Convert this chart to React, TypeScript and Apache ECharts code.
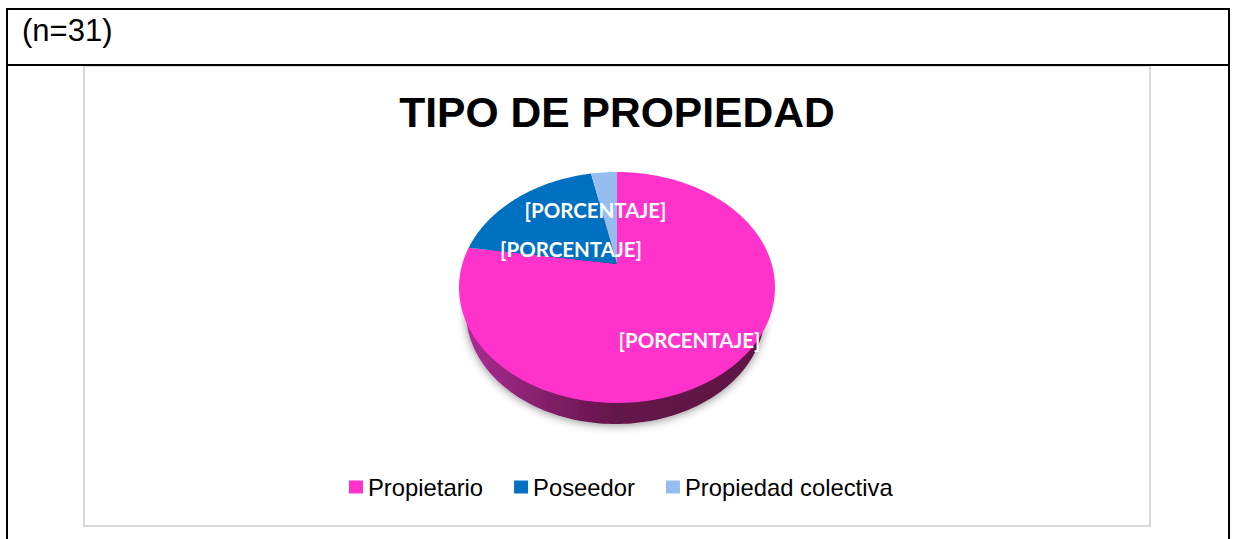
import React, { useEffect, useRef } from "react";
import * as echarts from "echarts";

const categories = ["Propietario", "Poseedor", "Propiedad colectiva"];
const counts = [24, 6, 1];
const colors = ["#ff33cc", "#0070c0", "#95bdf0"];
const labelText = "[PORCENTAJE]";
const titleText = "TIPO DE PROPIEDAD";
const sampleText = "(n=31)";

// Layout of the tilted disc: apex on screen, and a perspective projection of the unit circle.
const APEX_X = 617;
const APEX_Y = 264;
const SCALE_U = 154.7;
const SCALE_V = 110.7;
const PERSPECTIVE = 0.2035;
const labelOffsets = [
  [72.5, 76],
  [-46, -15],
  [-21.5, -54],
];

const total = counts.reduce((a, b) => a + b, 0);

function project(thetaDeg: number): number[] {
  const t = (thetaDeg * Math.PI) / 180;
  const u = Math.sin(t);
  const v = Math.cos(t);
  const w = 1 + PERSPECTIVE * v;
  return [APEX_X + (SCALE_U * u) / w, APEX_Y - (SCALE_V * v) / w];
}

function ellipsePoints(cx: number, cy: number, rx: number, ry: number): number[][] {
  const pts: number[][] = [];
  for (let i = 0; i < 240; i++) {
    const t = (i / 240) * Math.PI * 2;
    pts.push([cx + rx * Math.cos(t), cy + ry * Math.sin(t)]);
  }
  return pts;
}

function makeRenderItem(index: number) {
  return (_params: any, api: any) => {
    const value = api.value(0);
    const before = counts.slice(0, index).reduce((a, b) => a + b, 0);
    const start = (before / total) * 360;
    const end = start + (value / total) * 360;
    const steps = Math.max(6, Math.ceil(end - start));
    const pts: number[][] = [[APEX_X, APEX_Y]];
    for (let i = 0; i <= steps; i++) {
      pts.push(project(start + ((end - start) * i) / steps));
    }
    const children: any[] = [];
    if (index === 0) {
      children.push({
        type: "polygon",
        shape: { points: ellipsePoints(615.5, 312, 149.5, 112) },
        style: {
          fill: new echarts.graphic.LinearGradient(0, 0, 1, 0, [
            { offset: 0, color: "#ab2c93" },
            { offset: 0.25, color: "#85206c" },
            { offset: 0.5, color: "#641349" },
            { offset: 1, color: "#5c1244" },
          ]),
          shadowBlur: 10,
          shadowColor: "rgba(0,0,0,0.45)",
          shadowOffsetY: 1,
        },
      });
    }
    children.push({
      type: "polygon",
      shape: { points: pts },
      style: { fill: colors[index] },
    });
    children.push({
      type: "text",
      z2: 20,
      style: {
        x: APEX_X + labelOffsets[index][0],
        y: APEX_Y + labelOffsets[index][1],
        text: labelText,
        fill: "#ffffff",
        font: 'bold 20.5px Lato, "Noto Sans", sans-serif',
        align: "center",
        verticalAlign: "middle",
      },
    });
    return { type: "group", children };
  };
}

const BLACK = "#000000";
const GREY = "#d9d9d9";

export default function App() {
  const ref = useRef<HTMLDivElement>(null);
  useEffect(() => {
    const chart = echarts.init(ref.current!, undefined, { renderer: "svg" });
    chart.setOption({
      animation: false,
      backgroundColor: "#ffffff",
      title: {
        text: titleText,
        left: 612,
        top: 85,
        textAlign: "center",
        textStyle: {
          fontFamily: '"Liberation Sans", Arial, sans-serif',
          fontWeight: "bold",
          fontSize: 42.6,
          color: "#000000",
        },
      },
      legend: {
        data: categories,
        left: 349,
        top: 475,
        icon: "rect",
        itemWidth: 14,
        itemHeight: 13,
        itemGap: 31,
        selectedMode: false,
        padding: 0,
        textStyle: {
          fontFamily: '"Liberation Sans", Arial, sans-serif',
          fontSize: 23.8,
          color: "#000000",
        },
      },
      graphic: [
        { type: "rect", shape: { x: 83, y: 66, width: 2, height: 461 }, style: { fill: GREY } },
        { type: "rect", shape: { x: 1149, y: 66, width: 2, height: 461 }, style: { fill: GREY } },
        { type: "rect", shape: { x: 83, y: 525, width: 1068, height: 2 }, style: { fill: GREY } },
        { type: "rect", shape: { x: 85, y: 66, width: 1064, height: 1 }, style: { fill: GREY } },
        { type: "rect", shape: { x: 6, y: 8, width: 2, height: 531 }, style: { fill: BLACK } },
        { type: "rect", shape: { x: 1228, y: 8, width: 2, height: 531 }, style: { fill: BLACK } },
        { type: "rect", shape: { x: 6, y: 8, width: 1224, height: 2 }, style: { fill: BLACK } },
        { type: "rect", shape: { x: 6, y: 64, width: 1224, height: 2 }, style: { fill: BLACK } },
        {
          type: "text",
          style: {
            x: 22,
            y: 30,
            text: sampleText,
            fill: "#000000",
            font: '31px "Liberation Sans", Arial, sans-serif',
            verticalAlign: "middle",
          },
        },
      ],
      series: categories.map((name, i) => ({
        type: "custom",
        name,
        coordinateSystem: "none",
        silent: true,
        itemStyle: { color: colors[i] },
        data: [[counts[i]]],
        renderItem: makeRenderItem(i),
      })),
    });
    return () => chart.dispose();
  }, []);
  return (
    <div
      ref={ref}
      style={{ position: "absolute", left: 0, top: 0, width: 1235, height: 539 }}
    />
  );
}
